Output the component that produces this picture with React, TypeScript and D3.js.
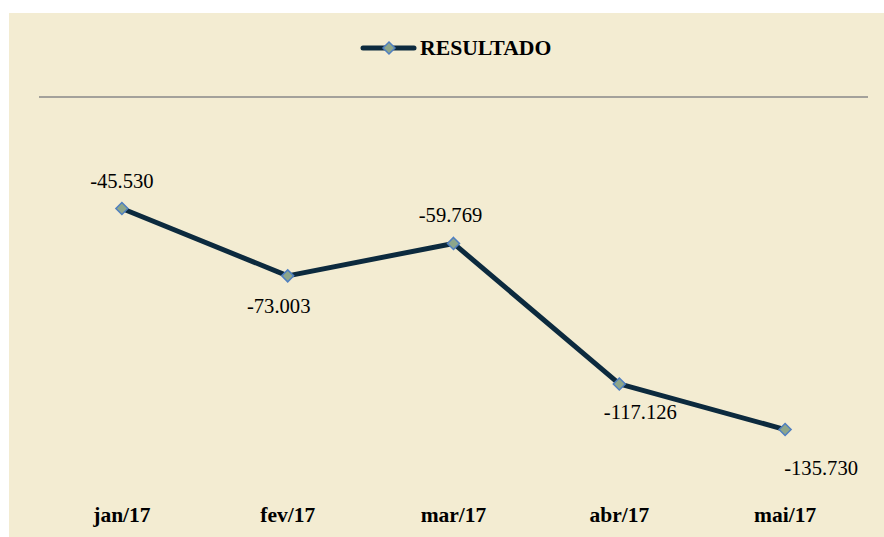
import React from "react";
import * as d3 from "d3";

const categories = ["jan/17", "fev/17", "mar/17", "abr/17", "mai/17"];
const values = [-45530, -73003, -59769, -117126, -135730];
const valueLabels = ["-45.530", "-73.003", "-59.769", "-117.126", "-135.730"];
const labelDy = [-21, 37, -21, 35, 45];
const labelDx = [0, -9, -3, 21, 36];
const seriesName = "RESULTADO";

const FONT = '"Liberation Serif", serif';

export default function App() {
  const W = 884, H = 537;
  const x = d3.scaleBand<string>().domain(categories).range([39, 868]);
  const y = d3.scaleLinear().domain([0, -160000]).range([97, 489]);
  const line = d3
    .line<number>()
    .x((_, i) => (x(categories[i]) as number) + x.bandwidth() / 2)
    .y((d) => y(d));
  const diamond = (cx: number, cy: number, r: number) =>
    `M${cx},${cy - r}L${cx + r},${cy}L${cx},${cy + r}L${cx - r},${cy}Z`;
  const ts = { fontFamily: FONT };
  return (
    <svg width={W} height={H} style={{ position: "absolute", left: 0, top: 0 }}>
      <rect x={9} y={13} width={W - 9} height={H - 13} fill="#f3ecd2" />
      {/* legend */}
      <line x1={363} x2={414} y1={48} y2={48} stroke="#0c2a3e" strokeWidth={5} strokeLinecap="round" />
      <path d={diamond(389, 48, 6)} fill="#8da68b" stroke="#4f7fc0" strokeWidth={1.5} />
      <text x={420} y={55} fontSize={21.7} fontWeight="bold" fill="#000" style={ts}>
        {seriesName}
      </text>
      {/* zero axis */}
      <line x1={39} x2={868} y1={y(0)} y2={y(0)} stroke="#888" strokeWidth={1.5} />
      {/* series */}
      <path d={line(values) || ""} fill="none" stroke="#0c2a3e" strokeWidth={5} strokeLinejoin="round" />
      {values.map((v, i) => {
        const cx = (x(categories[i]) as number) + x.bandwidth() / 2;
        const cy = y(v);
        return (
          <g key={i}>
            <path d={diamond(cx, cy, 6)} fill="#8da68b" stroke="#4f7fc0" strokeWidth={1.5} />
            <text
              x={cx + labelDx[i]}
              y={cy + labelDy[i]}
              textAnchor="middle"
              fontSize={20.6}
              fill="#000"
              style={ts}
            >
              {valueLabels[i]}
            </text>
          </g>
        );
      })}
      {/* categories */}
      {categories.map((c) => (
        <text
          key={c}
          x={(x(c) as number) + x.bandwidth() / 2}
          y={522}
          textAnchor="middle"
          fontSize={21.5}
          fontWeight="bold"
          fill="#000"
          style={ts}
        >
          {c}
        </text>
      ))}
    </svg>
  );
}
